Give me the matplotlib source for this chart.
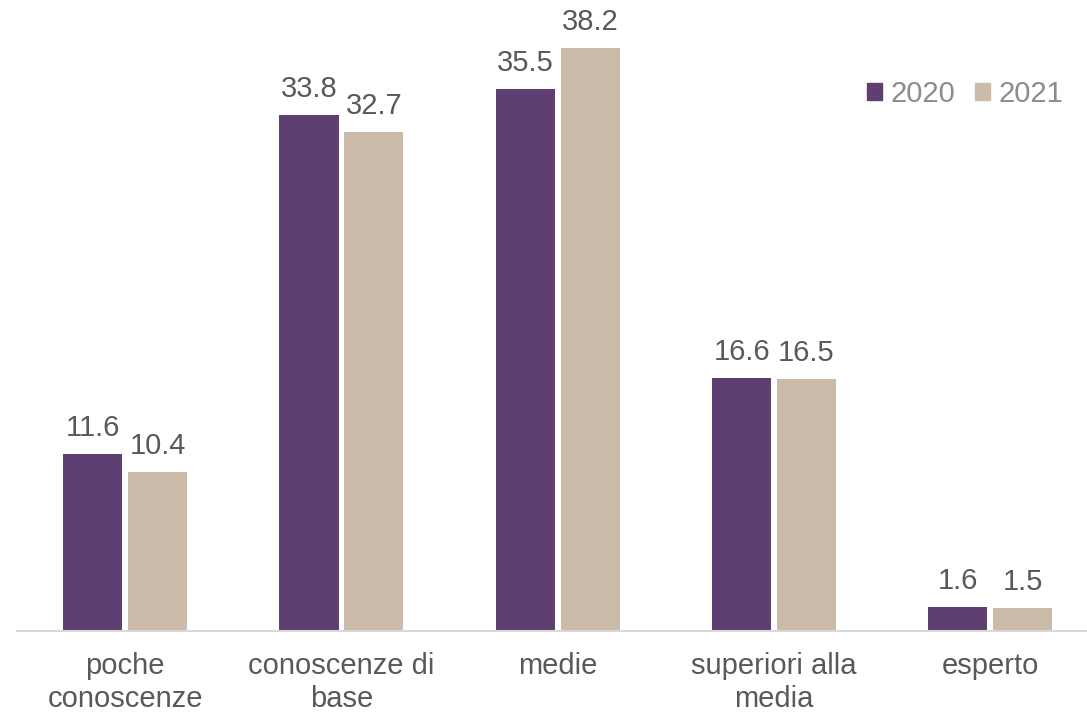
import matplotlib
matplotlib.use("Agg")
import matplotlib.pyplot as plt
import numpy as np
from matplotlib.patches import Patch

categories = ["poche\nconoscenze", "conoscenze di\nbase", "medie", "superiori alla\nmedia", "esperto"]
series_names = ["2020", "2021"]
values_2020 = [11.6, 33.8, 35.5, 16.6, 1.6]
values_2021 = [10.4, 32.7, 38.2, 16.5, 1.5]

c2020 = "#5F3F72"
c2021 = "#CDBBA9"
txt = "#595959"

plt.rcParams['font.family'] = ['Liberation Sans', 'DejaVu Sans']

W, H = 1087, 712
fig = plt.figure(figsize=(W / 100, H / 100), dpi=100)
left_px, right_px = 17, 1087
base_px, top_px = 631, 21
ax = fig.add_axes([left_px / W, (H - base_px) / H, (right_px - left_px) / W, (base_px - top_px) / H])

unit = 216.3
x = np.arange(len(categories))
bw = 0.273
off = 0.150
b1 = ax.bar(x - off, values_2020, bw, color=c2020, label=series_names[0])
b2 = ax.bar(x + off, values_2021, bw, color=c2021, label=series_names[1])

ax.set_xlim(-0.5, -0.5 + (right_px - left_px) / unit)
ax.set_ylim(0, (base_px - top_px) / 15.26)

fs = 21
for bars, vals in ((b1, values_2020), (b2, values_2021)):
    for rect, v in zip(bars, vals):
        ax.annotate(f"{v:.1f}", (rect.get_x() + rect.get_width() / 2, v),
                    xytext=(0, 8.5), textcoords="offset points",
                    ha="center", va="bottom", fontsize=fs, color=txt)

ax.set_xticks(x)
ax.set_xticklabels(categories, fontsize=fs, color=txt, linespacing=1.25)
ax.tick_params(axis="x", length=0, pad=15)
ax.set_yticks([])
for s in ["top", "right", "left"]:
    ax.spines[s].set_visible(False)
ax.spines["bottom"].set_color("#D9D9D9")
ax.spines["bottom"].set_linewidth(1.5)

handles = [Patch(color=c2020), Patch(color=c2021)]
leg = fig.legend(handles, series_names, loc="center right",
                 bbox_to_anchor=(1078 / W, 1 - 94 / H), ncol=2, frameon=False,
                 fontsize=fs, handlelength=0.51, handleheight=0.51,
                 handletextpad=0.3, columnspacing=0.68, borderpad=0)
for t in leg.get_texts():
    t.set_color("#8C8C8C")

fig.savefig("out.png", dpi=100)
